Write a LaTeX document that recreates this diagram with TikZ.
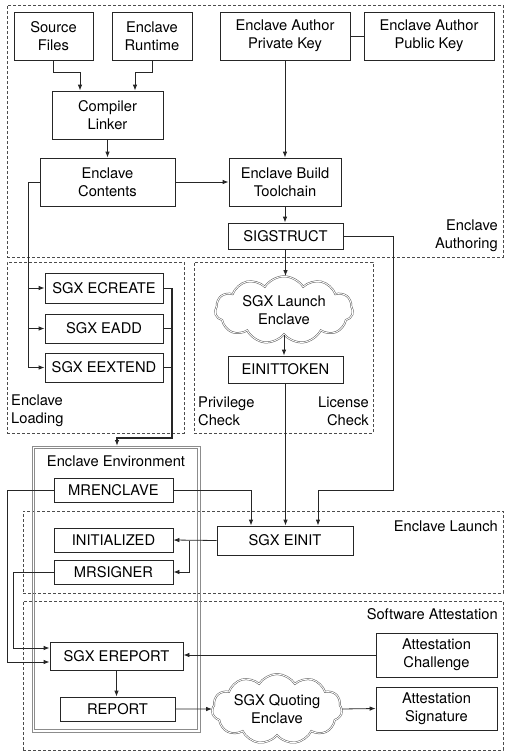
\documentclass[tikz,border=0pt]{standalone}
\usepackage{fontspec}
\setmainfont{TeX Gyre Heros}
\usetikzlibrary{shapes.symbols,arrows.meta,calc}
\begin{document}
\begin{tikzpicture}[x=1pt,y=-1pt,
  every node/.style={font=\fontsize{14.7}{18}\selectfont, text=black},
  bx/.style={draw=black!85, line width=0.8pt, rectangle, inner sep=0pt, align=center},
  region/.style={draw=black!70, line width=0.8pt, dashed, dash pattern=on 3pt off 2pt, rectangle, inner sep=0pt},
  envline/.style={draw=black!45, line width=0.8pt},
  cld/.style={shape=cloud, cloud puffs=11, cloud puff arc=115, aspect=2.3, draw=black!65, line width=0.5pt, double=white, double distance=0.9pt, inner sep=0pt, align=center},
  lbl/.style={inner sep=0pt, align=left},
  conn/.style={draw=black!85, line width=0.8pt},
  arr/.style={conn, -{Latex[length=6pt,width=4.5pt]}},
]
\useasboundingbox (0,0) rectangle (510,756);
% regions
\node[region, minimum width=496, minimum height=252] (auth) at (255,131) {};
\node[region, minimum width=177, minimum height=171] (load) at (95.5,347.5) {};
\node[region, minimum width=179, minimum height=171] (priv) at (283.5,347.5) {};
\node[region, minimum width=480, minimum height=82] (launch) at (263,552) {};
\node[region, minimum width=480, minimum height=149] (att) at (263,675.5) {};
% enclave environment (double grey frame)
\draw[envline] (32,446) rectangle (200,732);
\draw[envline] (34.6,448.6) rectangle (197.4,729.4);
\coordinate (envtop) at (117,446);
% region labels
\node[lbl, align=right, anchor=east] (lauth) at (498,236) {Enclave\\Authoring};
\node[lbl, anchor=west] (lload) at (11,411) {Enclave\\Loading};
\node[lbl, anchor=west] (lprivc) at (198,411) {Privilege\\Check};
\node[lbl, align=right, anchor=east] (llic) at (369,411) {License\\Check};
\node[lbl] (lenv) at (116,461) {Enclave Environment};
\node[lbl, anchor=east] (llaunch) at (498,526) {Enclave Launch};
\node[lbl, anchor=east] (latt) at (498,614) {Software Attestation};
% boxes
\node[bx, minimum width=79, minimum height=48] (src) at (53.5,36) {Source\\Files};
\node[bx, minimum width=80, minimum height=48] (rt) at (152,36) {Enclave\\Runtime};
\node[bx, minimum width=130, minimum height=48] (pk) at (285,36) {Enclave Author\\Private Key};
\node[bx, minimum width=130, minimum height=48] (pub) at (429,36) {Enclave Author\\Public Key};
\node[bx, minimum width=111, minimum height=48] (comp) at (107.5,115) {Compiler\\Linker};
\node[bx, minimum width=135, minimum height=48] (cont) at (107.5,182) {Enclave\\Contents};
\node[bx, minimum width=112, minimum height=48] (tool) at (285,182) {Enclave Build\\Toolchain};
\node[bx, minimum width=115, minimum height=26] (sig) at (285.5,236) {SIGSTRUCT};
\node[bx, minimum width=118, minimum height=30] (ecreate) at (104,288) {SGX ECREATE};
\node[bx, minimum width=118, minimum height=29] (eadd) at (104,328.5) {SGX EADD};
\node[bx, minimum width=118, minimum height=29] (eext) at (104,367.5) {SGX EEXTEND};
\node[cld, minimum width=138, minimum height=60] (le) at (284,310) {SGX Launch\\Enclave};
\node[bx, minimum width=115, minimum height=27] (tok) at (285.5,369.5) {EINITTOKEN};
\node[bx, minimum width=119, minimum height=24] (mre) at (113.5,490) {MRENCLAVE};
\node[bx, minimum width=119, minimum height=24] (ini) at (113.5,540) {INITIALIZED};
\node[bx, minimum width=119, minimum height=24] (mrs) at (113.5,572) {MRSIGNER};
\node[bx, minimum width=136, minimum height=29] (einit) at (285,540.5) {SGX EINIT};
\node[bx, minimum width=133, minimum height=28] (erep) at (116.5,656) {SGX EREPORT};
\node[bx, minimum width=115, minimum height=24] (rep) at (117.5,709) {REPORT};
\node[bx, minimum width=121, minimum height=44] (chal) at (436.5,655) {Attestation\\Challenge};
\node[bx, minimum width=121, minimum height=43] (sgn) at (436.5,708.5) {Attestation\\Signature};
\node[cld, minimum width=130, minimum height=57] (qe) at (277,709) {SGX Quoting\\Enclave};
% bend points
\coordinate (b1) at (53.5,72);
\coordinate (b2) at (80,72);
\coordinate (b3) at (152,72);
\coordinate (b4) at (135,72);
\coordinate (b5) at (28,182);
\coordinate (b6) at (172,288);
\coordinate (b7) at (172,438);
\coordinate (b8) at (117,438);
\coordinate (b9) at (393,236);
\coordinate (b10) at (393,490);
\coordinate (b11) at (318,490);
\coordinate (b12) at (251,490);
\coordinate (b13) at (189,540.5);
\coordinate (b14) at (7,490);
\coordinate (b15) at (13,572);
% connectors
\draw[arr] (src.south) -- (b1) -- (b2) -- (b2 |- comp.north);
\draw[arr] (rt.south) -- (b3) -- (b4) -- (b4 |- comp.north);
\draw[arr] (comp.south) -- (cont.north);
\draw[arr] (cont.east) -- (tool.west);
\draw[arr] (pk.south) -- (tool.north);
\draw[conn] (pk.east) -- (pub.west);
\draw[arr] (tool.south) -- (tool.south |- sig.north);
\draw[arr] (sig.south) -- (sig.south |- le.north);
\draw[arr] (le.south) -- (le.south |- tok.north);
\draw[arr] (tok.south) -- (tok.south |- einit.north);
\draw[arr] (sig.east) -- (b9) -- (b10) -- (b11) -- (b11 |- einit.north);
\draw[arr] (mre.east) -- (b12) -- (b12 |- einit.north);
\draw[conn] (cont.west) -- (b5) -- (b5 |- eext.west);
\draw[arr] (b5 |- ecreate.west) -- (ecreate.west);
\draw[arr] (b5 |- eadd.west) -- (eadd.west);
\draw[arr] (b5 |- eext.west) -- (eext.west);
\draw[conn] (ecreate.east) -- (b6);
\draw[conn] (eadd.east) -- (b6 |- eadd.east);
\draw[conn] (eext.east) -- (b6 |- eext.east);
\draw[arr, line width=1.2pt] (b6) -- (b7) -- (b8) -- (envtop);
\draw[arr] (einit.west) -- (ini.east);
\draw[arr] (b13) |- (mrs.east);
\draw[arr] (mre.west) -- (b14) |- ([yshift=-6pt]erep.west);
\draw[arr] (mrs.west) -- (b15) |- ([yshift=8pt]erep.west);
\draw[arr] (chal.west) -- (chal.west -| erep.east);
\draw[arr] (erep.south) -- (erep.south |- rep.north);
\draw[arr] (rep.east) -- (qe.west);
\draw[arr] (qe.east) -- (sgn.west);
\end{tikzpicture}
\end{document}
